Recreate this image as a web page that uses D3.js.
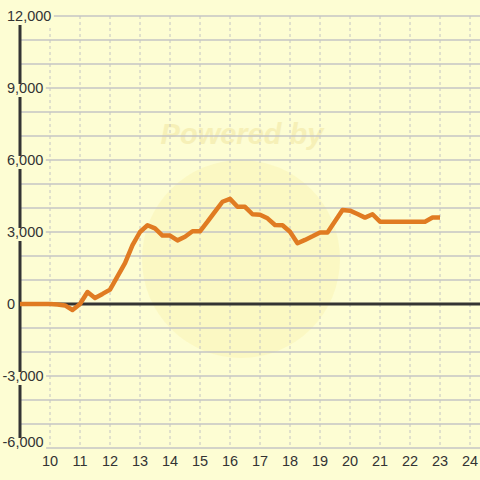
<!DOCTYPE html>
<html>
<head>
<meta charset="utf-8">
<script src="https://cdn.jsdelivr.net/npm/d3@7"></script>
<style>
	html, body { margin: 0; padding: 0; background: #fdfdd3; }
	svg { display: block; font-family: "Liberation Sans", Arial, sans-serif; }
</style>
</head>
<body>
<svg id="svg" width="480" height="480"></svg>
<script>
// 15 minute samples, 9:00 - 23:00
const times = ['9:00', '9:15', '9:30', '9:45', '10:00', '10:15', '10:30', '10:45',
	'11:00', '11:15', '11:30', '11:45', '12:00', '12:15', '12:30', '12:45',
	'13:00', '13:15', '13:30', '13:45', '14:00', '14:15', '14:30', '14:45',
	'15:00', '15:15', '15:30', '15:45', '16:00', '16:15', '16:30', '16:45',
	'17:00', '17:15', '17:30', '17:45', '18:00', '18:15', '18:30', '18:45',
	'19:00', '19:15', '19:30', '19:45', '20:00', '20:15', '20:30', '20:45',
	'21:00', '21:15', '21:30', '21:45', '22:00', '22:15', '22:30', '22:45', '23:00'];
const values = [0, 0, 0, 0, 0, -20, -60, -250,
	0, 500, 250, 420, 600, 1150, 1700, 2450,
	3000, 3280, 3150, 2850, 2850, 2650, 2800, 3030,
	3030, 3430, 3850, 4260, 4380, 4050, 4050, 3740,
	3720, 3570, 3290, 3280, 3010, 2530, 2670, 2820,
	2980, 2980, 3450, 3920, 3890, 3750, 3600, 3740,
	3430, 3430, 3430, 3430, 3430, 3430, 3430, 3600, 3600];
const xTicks = [10, 11, 12, 13, 14, 15, 16, 17, 18, 19, 20, 21, 22, 23, 24];
const yTicks = [-6000, -3000, 0, 3000, 6000, 9000, 12000];
const yGrid = d3.range(-6000, 12001, 1000);

const bg = '#fdfdd3';
const svg = d3.select('#svg');

const toHour = t => { const p = t.split(':'); return +p[0] + p[1] / 60; };
const data = times.map((t, i) => ({ hour: toHour(t), value: values[i] }));

const x = d3.scaleLinear().domain([9, 24 + 1 / 3]).range([20, 480]);
const y = d3.scaleLinear().domain([-6000, 12000]).range([448, 16]);

svg.append('rect').attr('width', 480).attr('height', 480).attr('fill', bg);

// watermark
svg.append('circle')
	.attr('cx', 241).attr('cy', 259).attr('r', 99)
	.attr('fill', '#f9ef9e').attr('opacity', 0.3);
svg.append('text')
	.attr('x', 242).attr('y', 144)
	.attr('text-anchor', 'middle')
	.style('font-size', '29px').style('font-weight', 'bold').style('font-style', 'italic')
	.attr('fill', '#f3e8a6').attr('opacity', 0.6)
	.text('Powered by');

// grid
svg.append('g')
	.selectAll('line')
	.data(xTicks)
	.enter().append('line')
	.attr('x1', d => x(d)).attr('x2', d => x(d))
	.attr('y1', y(12000)).attr('y2', y(-6000))
	.attr('stroke', '#c4c4c4').attr('stroke-width', 1)
	.attr('stroke-dasharray', '3,3');

svg.append('g')
	.selectAll('line')
	.data(yGrid)
	.enter().append('line')
	.attr('x1', x(9)).attr('x2', 480)
	.attr('y1', d => y(d)).attr('y2', d => y(d))
	.attr('stroke', '#c4c4c4').attr('stroke-width', 1.3);

// axes lines
svg.append('line')
	.attr('x1', x(9)).attr('x2', x(9))
	.attr('y1', y(12000)).attr('y2', y(-6000))
	.attr('stroke', '#333').attr('stroke-width', 3);
svg.append('line')
	.attr('x1', x(9)).attr('x2', 480)
	.attr('y1', y(0)).attr('y2', y(0))
	.attr('stroke', '#333').attr('stroke-width', 3);

// y labels with background box (left aligned, minus sign hangs out)
const fmt = d => d3.format(',')(d).replace('\u2212', '-'); // plain hyphen like the original
const yl = svg.append('g').selectAll('g')
	.data(yTicks)
	.enter().append('g')
	.attr('transform', d => `translate(0, ${d === -6000 ? y(d) - 6 : y(d)})`);
yl.append('text')
	.attr('x', d => d < 0 ? 2.5 : 7)
	.attr('dy', '0.35em')
	.style('font-size', '14.5px')
	.attr('fill', '#333')
	.text(fmt);
yl.insert('rect', 'text')
	.each(function () {
		const b = this.nextSibling.getBBox();
		d3.select(this)
			.attr('x', b.x - 1).attr('width', b.width + 3.5)
			.attr('y', -4).attr('height', 13);
	})
	.attr('fill', bg);

// x labels
svg.append('g').selectAll('text')
	.data(xTicks)
	.enter().append('text')
	.attr('x', d => x(d)).attr('y', 461)
	.attr('dy', '0.35em')
	.attr('text-anchor', 'middle')
	.style('font-size', '14.5px')
	.attr('fill', '#333')
	.text(d => d);

// series
const line = d3.line()
	.x(d => x(d.hour))
	.y(d => y(d.value));
svg.append('path')
	.datum(data)
	.attr('d', line)
	.attr('fill', 'none')
	.attr('stroke', '#e07b22')
	.attr('stroke-width', 4.5)
	.attr('stroke-linejoin', 'round');
</script>
</body>
</html>
